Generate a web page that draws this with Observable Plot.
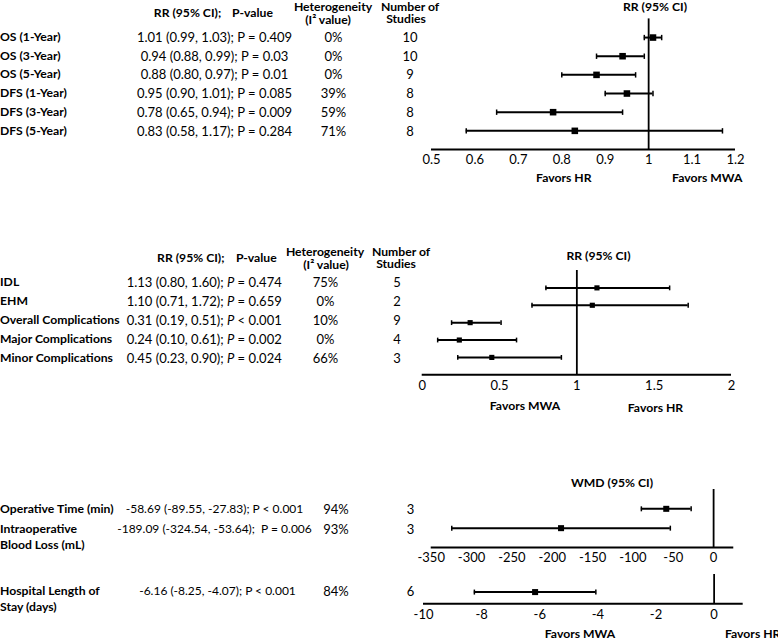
<!DOCTYPE html>
<html><head><meta charset="utf-8">
<script src="https://cdn.jsdelivr.net/npm/d3@7"></script>
<script src="https://cdn.jsdelivr.net/npm/@observablehq/plot@0.6"></script>
<style>
body{margin:0;background:#fff;}
#chart{position:relative;width:778px;height:642px;overflow:hidden;font-family:Lato,sans-serif;font-size:13px;color:#000;background:#fff;}
.t{position:absolute;white-space:pre;}
.b{font-weight:bold;font-size:12.2px;}
.s{font-size:12px;}
.pl{position:absolute;}
</style></head><body><div id="chart"></div>
<script>
// ---------- DATA ----------
// Panel 1: survival outcomes (RR)
const p1Labels = ["OS (1-Year)", "OS (3-Year)", "OS (5-Year)", "DFS (1-Year)", "DFS (3-Year)", "DFS (5-Year)"];
const p1Est = [1.01, 0.94, 0.88, 0.95, 0.78, 0.83];
const p1Lo  = [0.99, 0.88, 0.80, 0.90, 0.65, 0.58];
const p1Hi  = [1.03, 0.99, 0.97, 1.01, 0.94, 1.17];
const p1POp = ["=", "=", "=", "=", "=", "="];
const p1P   = ["0.409", "0.03", "0.01", "0.085", "0.009", "0.284"];
const p1I2  = ["0%", "0%", "0%", "39%", "59%", "71%"];
const p1N   = [10, 10, 9, 8, 8, 8];
const p1Ticks = [0.5, 0.6, 0.7, 0.8, 0.9, 1, 1.1, 1.2];

// Panel 2: recurrence / complications (RR)
const p2Labels = ["IDL", "EHM", "Overall Complications", "Major Complications", "Minor Complications"];
const p2Est = [1.13, 1.10, 0.31, 0.24, 0.45];
const p2Lo  = [0.80, 0.71, 0.19, 0.10, 0.23];
const p2Hi  = [1.60, 1.72, 0.51, 0.61, 0.90];
const p2POp = ["=", "=", "<", "=", "="];
const p2P   = ["0.474", "0.659", "0.001", "0.002", "0.024"];
const p2I2  = ["75%", "0%", "10%", "0%", "66%"];
const p2N   = [5, 2, 9, 4, 3];
const p2Ticks = [0, 0.5, 1, 1.5, 2];

// Panel 3a: operative outcomes (WMD)
const p3aLabels = ["Operative Time (min)", "Intraoperative\nBlood Loss (mL)"];
const p3aEst = [-58.69, -189.09];
const p3aLo  = [-89.55, -324.54];
const p3aHi  = [-27.83, -53.64];
const p3aPOp = ["<", "="];
const p3aP   = ["0.001", "0.006"];
const p3aI2  = ["94%", "93%"];
const p3aN   = [3, 3];
const p3aTicks = [-350, -300, -250, -200, -150, -100, -50, 0];

// Panel 3b: hospital stay (WMD)
const p3bLabels = ["Hospital Length of\nStay (days)"];
const p3bEst = [-6.16];
const p3bLo  = [-8.25];
const p3bHi  = [-4.07];
const p3bPOp = ["<"];
const p3bP   = ["0.001"];
const p3bI2  = ["84%"];
const p3bN   = [6];
const p3bTicks = [-10, -8, -6, -4, -2, 0];

// ---------- HELPERS ----------
const chart = document.getElementById("chart");
// (x, y) = anchor point; y is the centre of the first text line
function txt(s, x, y, {anchor = "middle", bold = false, small = false, html = false, lh = 12} = {}) {
  const d = document.createElement("div");
  d.className = "t" + (bold ? " b" : "") + (small ? " s" : "");
  if (html) d.innerHTML = s; else d.textContent = s;
  d.style.lineHeight = lh + "px";
  d.style.left = x + "px";
  d.style.top = (y - lh / 2) + "px";
  d.style.transform = anchor === "middle" ? "translateX(-50%)" : anchor === "end" ? "translateX(-100%)" : "none";
  chart.appendChild(d);
  return d;
}
const capSymbol = {draw(ctx, size) { const h = Math.sqrt(size / Math.PI); ctx.moveTo(0, -h); ctx.lineTo(0, h); }};

function forest({labels, est, lo, hi, ref, domain, ticks, yMax, left, top, width, height, mL, mR, mT, mB, sq, cap}) {
  const n = labels.length;
  const data = labels.map((l, i) => ({label: l, y: n - i, est: est[i], lo: lo[i], hi: hi[i]}));
  const p = Plot.plot({
    width, height, marginLeft: mL, marginRight: mR, marginTop: mT, marginBottom: mB,
    style: {background: "none", fontFamily: "Lato, sans-serif", fontSize: "13px", color: "black", overflow: "visible"},
    x: {domain, ticks, tickFormat: d => String(d), tickSize: 0, tickPadding: 5.5, label: null},
    y: {domain: [0, yMax], axis: null},
    marks: [
      Plot.ruleY([0], {stroke: "black", strokeWidth: 2}),
      Plot.ruleX([ref], {y1: 0, y2: yMax, stroke: "black", strokeWidth: 1.8}),
      Plot.ruleY(data, {x1: "lo", x2: "hi", y: "y", stroke: "black", strokeWidth: 2}),
      Plot.dot(data, {x: "lo", y: "y", symbol: capSymbol, r: cap, fill: "none", stroke: "black", strokeWidth: 1.5}),
      Plot.dot(data, {x: "hi", y: "y", symbol: capSymbol, r: cap, fill: "none", stroke: "black", strokeWidth: 1.5}),
      Plot.dot(data, {x: "est", y: "y", symbol: "square", r: sq, fill: "black", stroke: "none"})
    ]
  });
  p.classList.add("pl");
  p.style.left = left + "px";
  p.style.top = top + "px";
  chart.appendChild(p);
  return p;
}
function valueText(e, l, h, op, pv, italic, gap = " ") {
  const P = italic ? "<i>P</i>" : "P";
  return `${e.toFixed(2)} (${l.toFixed(2)}, ${h.toFixed(2)});${gap}${P} ${op === "<" ? "&lt;" : op} ${pv}`;
}

// ---------- PANEL 1 ----------
forest({labels: p1Labels, est: p1Est, lo: p1Lo, hi: p1Hi, ref: 1, domain: [0.5, 1.2], ticks: p1Ticks, yMax: 7,
  left: 400, top: 0, width: 355, height: 171, mL: 31, mR: 20, mT: 18.4, mB: 22, sq: 3.7, cap: 2.7});
txt("RR (95% CI);", 187.5, 12.7, {bold: true});
txt("P-value", 252.5, 12.7, {bold: true});
txt("Heterogeneity", 333, 6.8, {bold: true});
txt("(I² value)", 328, 19.6, {bold: true});
txt("Number of", 410, 6.8, {bold: true});
txt("Studies", 406, 19.3, {bold: true});
txt("RR (95% CI)", 655, 6.8, {bold: true});
txt("Favors HR", 563.8, 177.7, {bold: true});
txt("Favors MWA", 707.3, 177.7, {bold: true});
p1Labels.forEach((l, i) => {
  const y = 37 + i * 18.74;
  txt(l, 0, y, {anchor: "start", bold: true});
  txt(valueText(p1Est[i], p1Lo[i], p1Hi[i], p1POp[i], p1P[i], false), 214.5, y, {html: true});
  txt(p1I2[i], 333.5, y);
  txt(String(p1N[i]), 410, y);
});

// ---------- PANEL 2 ----------
forest({labels: p2Labels, est: p2Est, lo: p2Lo, hi: p2Hi, ref: 1, domain: [0, 2], ticks: p2Ticks, yMax: 6,
  left: 400, top: 250, width: 351, height: 146.3, mL: 21.7, mR: 20, mT: 20, mB: 22, sq: 2.9, cap: 2.4});
txt("RR (95% CI);", 190.8, 258.3, {bold: true});
txt("P-value", 256.3, 258.3, {bold: true});
txt("Heterogeneity", 325, 252.3, {bold: true});
txt("(I² value)", 326, 264.8, {bold: true});
txt("Number of", 401, 251.5, {bold: true});
txt("Studies", 396, 264, {bold: true});
txt("RR (95% CI)", 598.5, 256, {bold: true});
txt("Favors MWA", 525, 405.7, {bold: true});
txt("Favors HR", 655.5, 408.3, {bold: true});
p2Labels.forEach((l, i) => {
  const y = 281.7 + i * 19.15;
  txt(l, 0, y, {anchor: "start", bold: true});
  txt(valueText(p2Est[i], p2Lo[i], p2Hi[i], p2POp[i], p2P[i], true), 204.2, y, {html: true});
  txt(p2I2[i], 325.5, y);
  txt(String(p2N[i]), 397, y);
});

// ---------- PANEL 3 ----------
forest({labels: p3aLabels, est: p3aEst, lo: p3aLo, hi: p3aHi, ref: 0, domain: [-350, 25], ticks: p3aTicks, yMax: 3,
  left: 400, top: 470, width: 353.3, height: 99, mL: 30.7, mR: 20, mT: 19, mB: 22, sq: 3.4, cap: 2.5});
forest({labels: p3bLabels, est: p3bEst, lo: p3bLo, hi: p3bHi, ref: 0, domain: [-10, 1], ticks: p3bTicks, yMax: 2.5,
  left: 400, top: 560, width: 362.7, height: 65.3, mL: 23, mR: 20, mT: 14, mB: 22, sq: 3.4, cap: 2.5});
txt("WMD (95% CI)", 612, 482.5, {bold: true});
txt("Favors MWA", 580, 634.3, {bold: true});
txt("Favors HR", 725, 634.3, {anchor: "start", bold: true});
const p3Rows = [509, 529];
p3aLabels.forEach((l, i) => {
  const y = p3Rows[i];
  txt(l, 0, y, {anchor: "start", bold: true, lh: 16});
  txt(valueText(p3aEst[i], p3aLo[i], p3aHi[i], p3aPOp[i], p3aP[i], false, i === 1 ? "  " : " "), 214.5, y, {html: true, small: true});
  txt(p3aI2[i], 336, y);
  txt(String(p3aN[i]), 410.5, y);
});
p3bLabels.forEach((l, i) => {
  const y = 591;
  txt(l, 0, y, {anchor: "start", bold: true, lh: 16});
  txt(valueText(p3bEst[i], p3bLo[i], p3bHi[i], p3bPOp[i], p3bP[i], false), 217.5, y, {html: true, small: true});
  txt(p3bI2[i], 336, y);
  txt(String(p3bN[i]), 410.5, y);
});
</script></body></html>
